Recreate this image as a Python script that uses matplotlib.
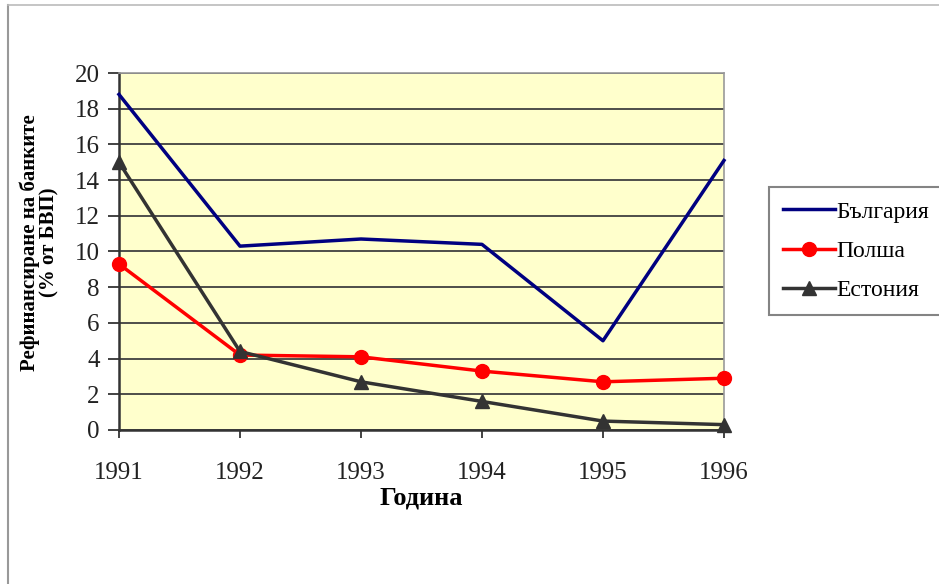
import matplotlib
matplotlib.use("Agg")
import matplotlib.pyplot as plt
from matplotlib.lines import Line2D

# данни
years = [1991, 1992, 1993, 1994, 1995, 1996]
bulgaria = [18.8, 10.3, 10.7, 10.4, 5.0, 15.1]
poland = [9.3, 4.2, 4.1, 3.3, 2.7, 2.9]
estonia = [15.0, 4.4, 2.7, 1.6, 0.5, 0.3]
labels = ['България', 'Полша', 'Естония']
yticks = [0, 2, 4, 6, 8, 10, 12, 14, 16, 18, 20]

plt.rcParams['font.family'] = ['Liberation Serif', 'DejaVu Serif']

fig = plt.figure(figsize=(9.39, 5.84), dpi=100)
ax = fig.add_axes([0.1267, 0.2637, 0.6443, 0.6113])
ax.set_facecolor('#FFFFCC')

ax.plot(years, bulgaria, color='#000080', lw=2.5, label=labels[0], clip_on=False, zorder=3)
ax.plot(years, poland, color='#FF0000', lw=2.5, marker='o', ms=10, label=labels[1], clip_on=False, zorder=3)
ax.plot(years, estonia, color='#333333', lw=2.5, marker='^', ms=10, label=labels[2], clip_on=False, zorder=4)

ax.set_xlim(1991, 1996)
ax.set_ylim(0, 20)
ax.set_xticks(years)
ax.set_yticks(yticks)
ax.tick_params(axis='x', direction='out', length=6, width=1.2, pad=17, labelsize=18, colors='#222222')
ax.tick_params(axis='y', direction='out', length=8, width=1.2, pad=6, labelsize=18, colors='#222222')
ax.grid(axis='y', color='#404040', lw=1.3)
ax.set_axisbelow(True)

for s in ['top', 'right']:
    ax.spines[s].set_color('#999999')
    ax.spines[s].set_linewidth(1.2)
for s in ['left', 'bottom']:
    ax.spines[s].set_color('#333333')
    ax.spines[s].set_linewidth(1.8)

ax.set_ylabel('Рефинансиране на банките\n(% от БВП)', fontsize=15, fontweight='bold',
              linespacing=0.95)
ax.yaxis.set_label_coords(-0.098, 0.525)
ax.set_xlabel('Година', fontsize=19, fontweight='bold', labelpad=2)

leg = ax.legend(loc='upper left', bbox_to_anchor=(769 / 939, 1 - 187 / 584),
                bbox_transform=fig.transFigure, fontsize=17, fancybox=False,
                frameon=True, edgecolor='#666666', handlelength=2.2, handletextpad=0.05,
                labelspacing=0.75, borderpad=0.6, borderaxespad=0)
leg.get_frame().set_linewidth(1.5)

# рамка
fig.add_artist(Line2D([8 / 939, 8 / 939], [0, 1 - 5 / 584], color='#999999', lw=1.5))
fig.add_artist(Line2D([8 / 939, 1], [1 - 5 / 584, 1 - 5 / 584], color='#bbbbbb', lw=1.2))

fig.savefig('out.png', dpi=100)
